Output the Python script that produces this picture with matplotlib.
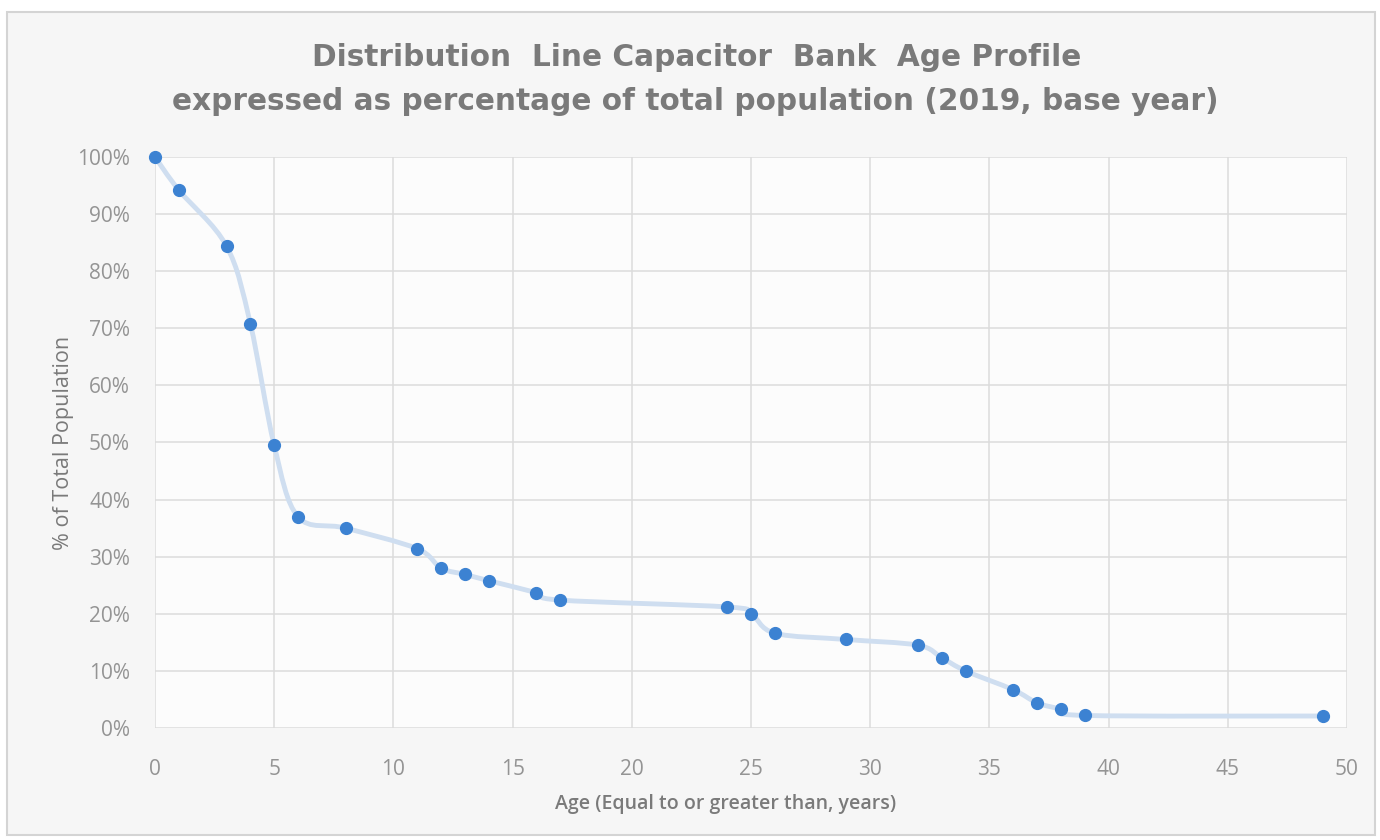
import numpy as np
import matplotlib
matplotlib.use("Agg")
import matplotlib.pyplot as plt
from matplotlib.path import Path
from matplotlib.patches import PathPatch, Rectangle
from matplotlib.ticker import PercentFormatter, MultipleLocator

# ages (years, equal to or greater than) and share of total population
ages = [0, 1, 3, 4, 5, 6, 8, 11, 12, 13, 14, 16, 17, 24, 25, 26, 29, 32, 33, 34, 36, 37, 38, 39, 49]
share = [1.000, 0.942, 0.844, 0.708, 0.495, 0.370, 0.350, 0.314, 0.280, 0.269, 0.258, 0.237, 0.224,
         0.212, 0.200, 0.166, 0.155, 0.145, 0.123, 0.100, 0.067, 0.044, 0.033, 0.022, 0.021]

title_1 = "Distribution  Line Capacitor  Bank  Age Profile"
title_2 = "expressed as percentage of total population (2019, base year)"
x_title = "Age (Equal to or greater than, years)"
y_title = "% of Total Population"

grey_txt = "#7a7a7a"
tick_txt = "#949494"
grid_col = "#dcdcdc"
line_col = "#cfdef0"
dot_col = "#3c82d2"


def smooth_path(x, y):
    # excel style smoothed line (catmull-rom -> bezier)
    pts = np.column_stack([x, y]).astype(float)
    n = len(pts)
    verts = [pts[0]]
    codes = [Path.MOVETO]
    for i in range(n - 1):
        p0 = pts[i - 1] if i > 0 else pts[i]
        p1 = pts[i]
        p2 = pts[i + 1]
        p3 = pts[i + 2] if i + 2 < n else pts[i + 1]
        c1 = p1 + (p2 - p0) / 6.0
        c2 = p2 - (p3 - p1) / 6.0
        verts += [c1, c2, p2]
        codes += [Path.CURVE4] * 3
    return Path(verts, codes)


fig = plt.figure(figsize=(13.8, 8.4), dpi=100)
fig.patch.set_facecolor("white")
fig.patches.append(Rectangle((7 / 1380, 5 / 840), 1368 / 1380, 823 / 840, transform=fig.transFigure,
                             facecolor="#f6f6f6", edgecolor="#d4d4d4", linewidth=1.5, zorder=-5))

ax = fig.add_axes([155 / 1380, 1 - 728 / 840, 1192 / 1380, 571 / 840])
ax.set_facecolor("#fcfcfc")
ax.set_xlim(0, 50)
ax.set_ylim(0, 1)
ax.xaxis.set_major_locator(MultipleLocator(5))
ax.yaxis.set_major_locator(MultipleLocator(0.1))
ax.yaxis.set_major_formatter(PercentFormatter(1.0, decimals=0))
ax.grid(True, color=grid_col, linewidth=1.1)
ax.set_axisbelow(True)
for s in ax.spines.values():
    s.set_visible(False)
ax.tick_params(length=0, labelsize=15, labelcolor=tick_txt)
ax.tick_params(axis="x", pad=22)
ax.tick_params(axis="y", pad=18)
for lab in ax.get_xticklabels() + ax.get_yticklabels():
    lab.set_family("Open Sans")

ax.add_patch(PathPatch(smooth_path(ages, share), facecolor="none", edgecolor=line_col,
                       linewidth=3.5, capstyle="round", zorder=2, clip_on=False))
ax.plot(ages, share, linestyle="none", marker="o", markersize=8.5, color=dot_col,
        markeredgecolor=dot_col, zorder=3, clip_on=False)

ax.set_xlabel(x_title, fontsize=14, color=grey_txt, fontweight="semibold", family="Open Sans")
ax.xaxis.set_label_coords(0.479, -0.115)
ax.set_ylabel(y_title, fontsize=15.5, color=grey_txt, family="Open Sans")
ax.yaxis.set_label_coords(-0.068, 0.5)

fig.text(0.505, 1 - 58 / 840, title_1, ha="center", va="center", fontsize=21.3, fontweight="bold",
         color=grey_txt, family="DejaVu Sans")
fig.text(0.504, 1 - 101 / 840, title_2, ha="center", va="center", fontsize=21.3, fontweight="bold",
         color=grey_txt, family="DejaVu Sans")

fig.savefig("out.png", dpi=100, facecolor=fig.get_facecolor())
